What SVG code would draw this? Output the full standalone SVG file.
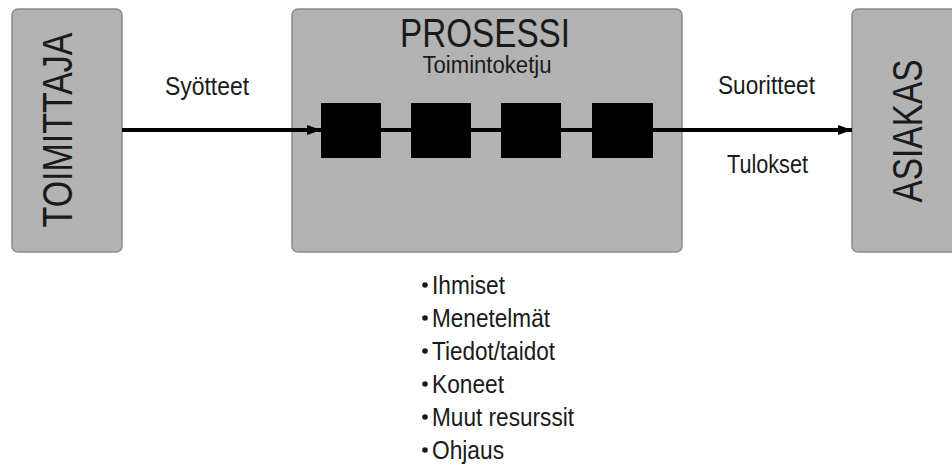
<svg xmlns="http://www.w3.org/2000/svg" width="952" height="466" viewBox="0 0 952 466">
<defs>
<style>
.box{fill:#b3b3b3;stroke:#8a8a8a;stroke-width:1.5}
.t{font-family:"Liberation Sans",Arial,sans-serif;fill:#1a1a1a}
.big{font-size:42px}
.lbl{font-size:25px}
.li{font-size:25px}
.blk{fill:#000}
.ln{stroke:#000;stroke-width:4;fill:none}
.dot{fill:#1a1a1a}
</style>
<marker id="ah" markerWidth="14" markerHeight="10" refX="14" refY="5" orient="auto" markerUnits="userSpaceOnUse">
<path d="M0,0 L14,5 L0,10 Z" fill="#000"/>
</marker>
</defs>
<rect width="952" height="466" fill="#fff"/>
<g id="toimittaja">
<rect class="box" x="12" y="9" width="110" height="243" rx="6"/>
<text class="t big" transform="translate(72,130) rotate(-90)" text-anchor="middle" textLength="195" lengthAdjust="spacingAndGlyphs">TOIMITTAJA</text>
</g>
<g id="prosessi">
<rect class="box" x="292" y="9" width="390" height="243" rx="6"/>
<text class="t" x="485" y="47" font-size="40" text-anchor="middle" textLength="170" lengthAdjust="spacingAndGlyphs">PROSESSI</text>
<text class="t" x="487" y="73" font-size="23" text-anchor="middle" textLength="129" lengthAdjust="spacingAndGlyphs">Toimintoketju</text>
</g>
<g id="asiakas">
<rect class="box" x="852" y="9" width="120" height="243" rx="6"/>
<text class="t big" transform="translate(922,131) rotate(-90)" text-anchor="middle" textLength="143" lengthAdjust="spacingAndGlyphs">ASIAKAS</text>
</g>
<g id="step1"><rect class="blk" x="321" y="103" width="60" height="55"/></g>
<g id="step2"><rect class="blk" x="411" y="103" width="60" height="55"/></g>
<g id="step3"><rect class="blk" x="501" y="103" width="60" height="55"/></g>
<g id="step4"><rect class="blk" x="592" y="103" width="61" height="55"/></g>
<g id="connectors">
<line class="ln" x1="122" y1="130" x2="321" y2="130" marker-end="url(#ah)"/>
<line class="ln" x1="381" y1="130" x2="411" y2="130"/>
<line class="ln" x1="471" y1="130" x2="501" y2="130"/>
<line class="ln" x1="561" y1="130" x2="592" y2="130"/>
<line class="ln" x1="653" y1="130" x2="852" y2="130" marker-end="url(#ah)"/>
</g>
<g id="labels">
<text class="t lbl" x="165" y="95" textLength="84" lengthAdjust="spacingAndGlyphs">Syötteet</text>
<text class="t lbl" x="718" y="94" textLength="97" lengthAdjust="spacingAndGlyphs">Suoritteet</text>
<text class="t lbl" x="727" y="173" textLength="81" lengthAdjust="spacingAndGlyphs">Tulokset</text>
</g>
<g id="resources">
<circle class="dot" cx="425" cy="285" r="2.8"/>
<circle class="dot" cx="425" cy="318" r="2.8"/>
<circle class="dot" cx="425" cy="351" r="2.8"/>
<circle class="dot" cx="425" cy="384" r="2.8"/>
<circle class="dot" cx="425" cy="417" r="2.8"/>
<circle class="dot" cx="425" cy="450" r="2.8"/>
<text class="t li" x="432" y="294" textLength="73" lengthAdjust="spacingAndGlyphs">Ihmiset</text>
<text class="t li" x="432" y="327" textLength="118" lengthAdjust="spacingAndGlyphs">Menetelmät</text>
<text class="t li" x="432" y="360" textLength="123" lengthAdjust="spacingAndGlyphs">Tiedot/taidot</text>
<text class="t li" x="432" y="393" textLength="72" lengthAdjust="spacingAndGlyphs">Koneet</text>
<text class="t li" x="432" y="426" textLength="142" lengthAdjust="spacingAndGlyphs">Muut resurssit</text>
<text class="t li" x="432" y="459" textLength="72" lengthAdjust="spacingAndGlyphs">Ohjaus</text>
</g>
</svg>
